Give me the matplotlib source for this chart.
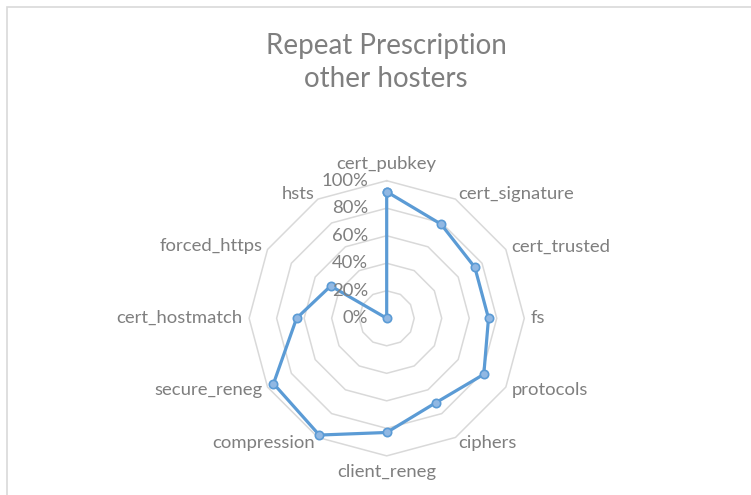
import numpy as np
import matplotlib
matplotlib.use("Agg")
import matplotlib.pyplot as plt
from matplotlib.patches import Rectangle

categories = ["cert_pubkey", "cert_signature", "cert_trusted", "fs", "protocols",
              "ciphers", "client_reneg", "compression", "secure_reneg",
              "cert_hostmatch", "forced_https", "hsts"]
values = [0.92, 0.79, 0.74, 0.74, 0.815, 0.71, 0.83, 0.98, 0.95, 0.655, 0.47, 0.0]
ring_levels = [0.2, 0.4, 0.6, 0.8, 1.0]
ring_labels = ["0%", "20%", "40%", "60%", "80%", "100%"]
title = "Repeat Prescription\nother hosters"

plt.rcParams['font.family'] = ['Lato', 'DejaVu Sans']
text_color = "#7f7f7f"
grid_color = "#d9d9d9"
line_color = "#5b9bd5"

fig = plt.figure(figsize=(7.51, 4.95), dpi=100)
fig.patch.set_facecolor("white")

# chart area border (runs off the right and bottom edges)
fig.add_artist(Rectangle((7 / 751, -0.5), 2, 1 - 6.5 / 495 + 0.5, transform=fig.transFigure,
                         fill=False, edgecolor=grid_color, linewidth=1.2))

ax = fig.add_axes([0.3317, 0.079, 0.3664, 0.556], projection="polar")
ax.set_theta_zero_location("N")
ax.set_theta_direction(-1)
ax.set_ylim(0, 1.0)
ax.grid(False)
ax.spines["polar"].set_visible(False)
ax.set_xticks([])
ax.set_yticks([])
ax.patch.set_alpha(0)

n = len(categories)
angles = np.linspace(0, 2 * np.pi, n, endpoint=False)
closed = np.append(angles, angles[0])

# polygon gridlines
for lev in ring_levels:
    ax.plot(closed, [lev] * (n + 1), color=grid_color, linewidth=1.1, zorder=1, clip_on=False)

# data series
vals = np.append(values, values[0])
ax.plot(closed, vals, color=line_color, linewidth=2.3, zorder=3, clip_on=False,
        marker="o", markersize=6, markerfacecolor="#91b8e3", markeredgecolor=line_color,
        markeredgewidth=1.2)

# category labels
for a, lab in zip(angles, categories):
    s, c = np.sin(a), np.cos(a)
    if abs(s) < 1e-6:
        ha = "center"
        va = "bottom" if c > 0 else "top"
        off = (0, 6 * np.sign(c))
    else:
        ha = "left" if s > 0 else "right"
        va = "center"
        off = (4.5 * s, 4.5 * c)
    ax.annotate(lab, xy=(a, 1.0), xytext=off, textcoords="offset points",
                ha=ha, va=va, fontsize=13.3, color=text_color, annotation_clip=False)

# radial axis labels
for lev, lab in zip([0] + ring_levels, ring_labels):
    ax.annotate(lab, xy=(0, lev), xytext=(-13.5, 0), textcoords="offset points",
                ha="right", va="center", fontsize=13.3, color=text_color, annotation_clip=False)

fig.text(0.514, 0.874, title, ha="center", va="center", fontsize=20, color=text_color,
         linespacing=1.35)

fig.savefig("out.png", dpi=100)
